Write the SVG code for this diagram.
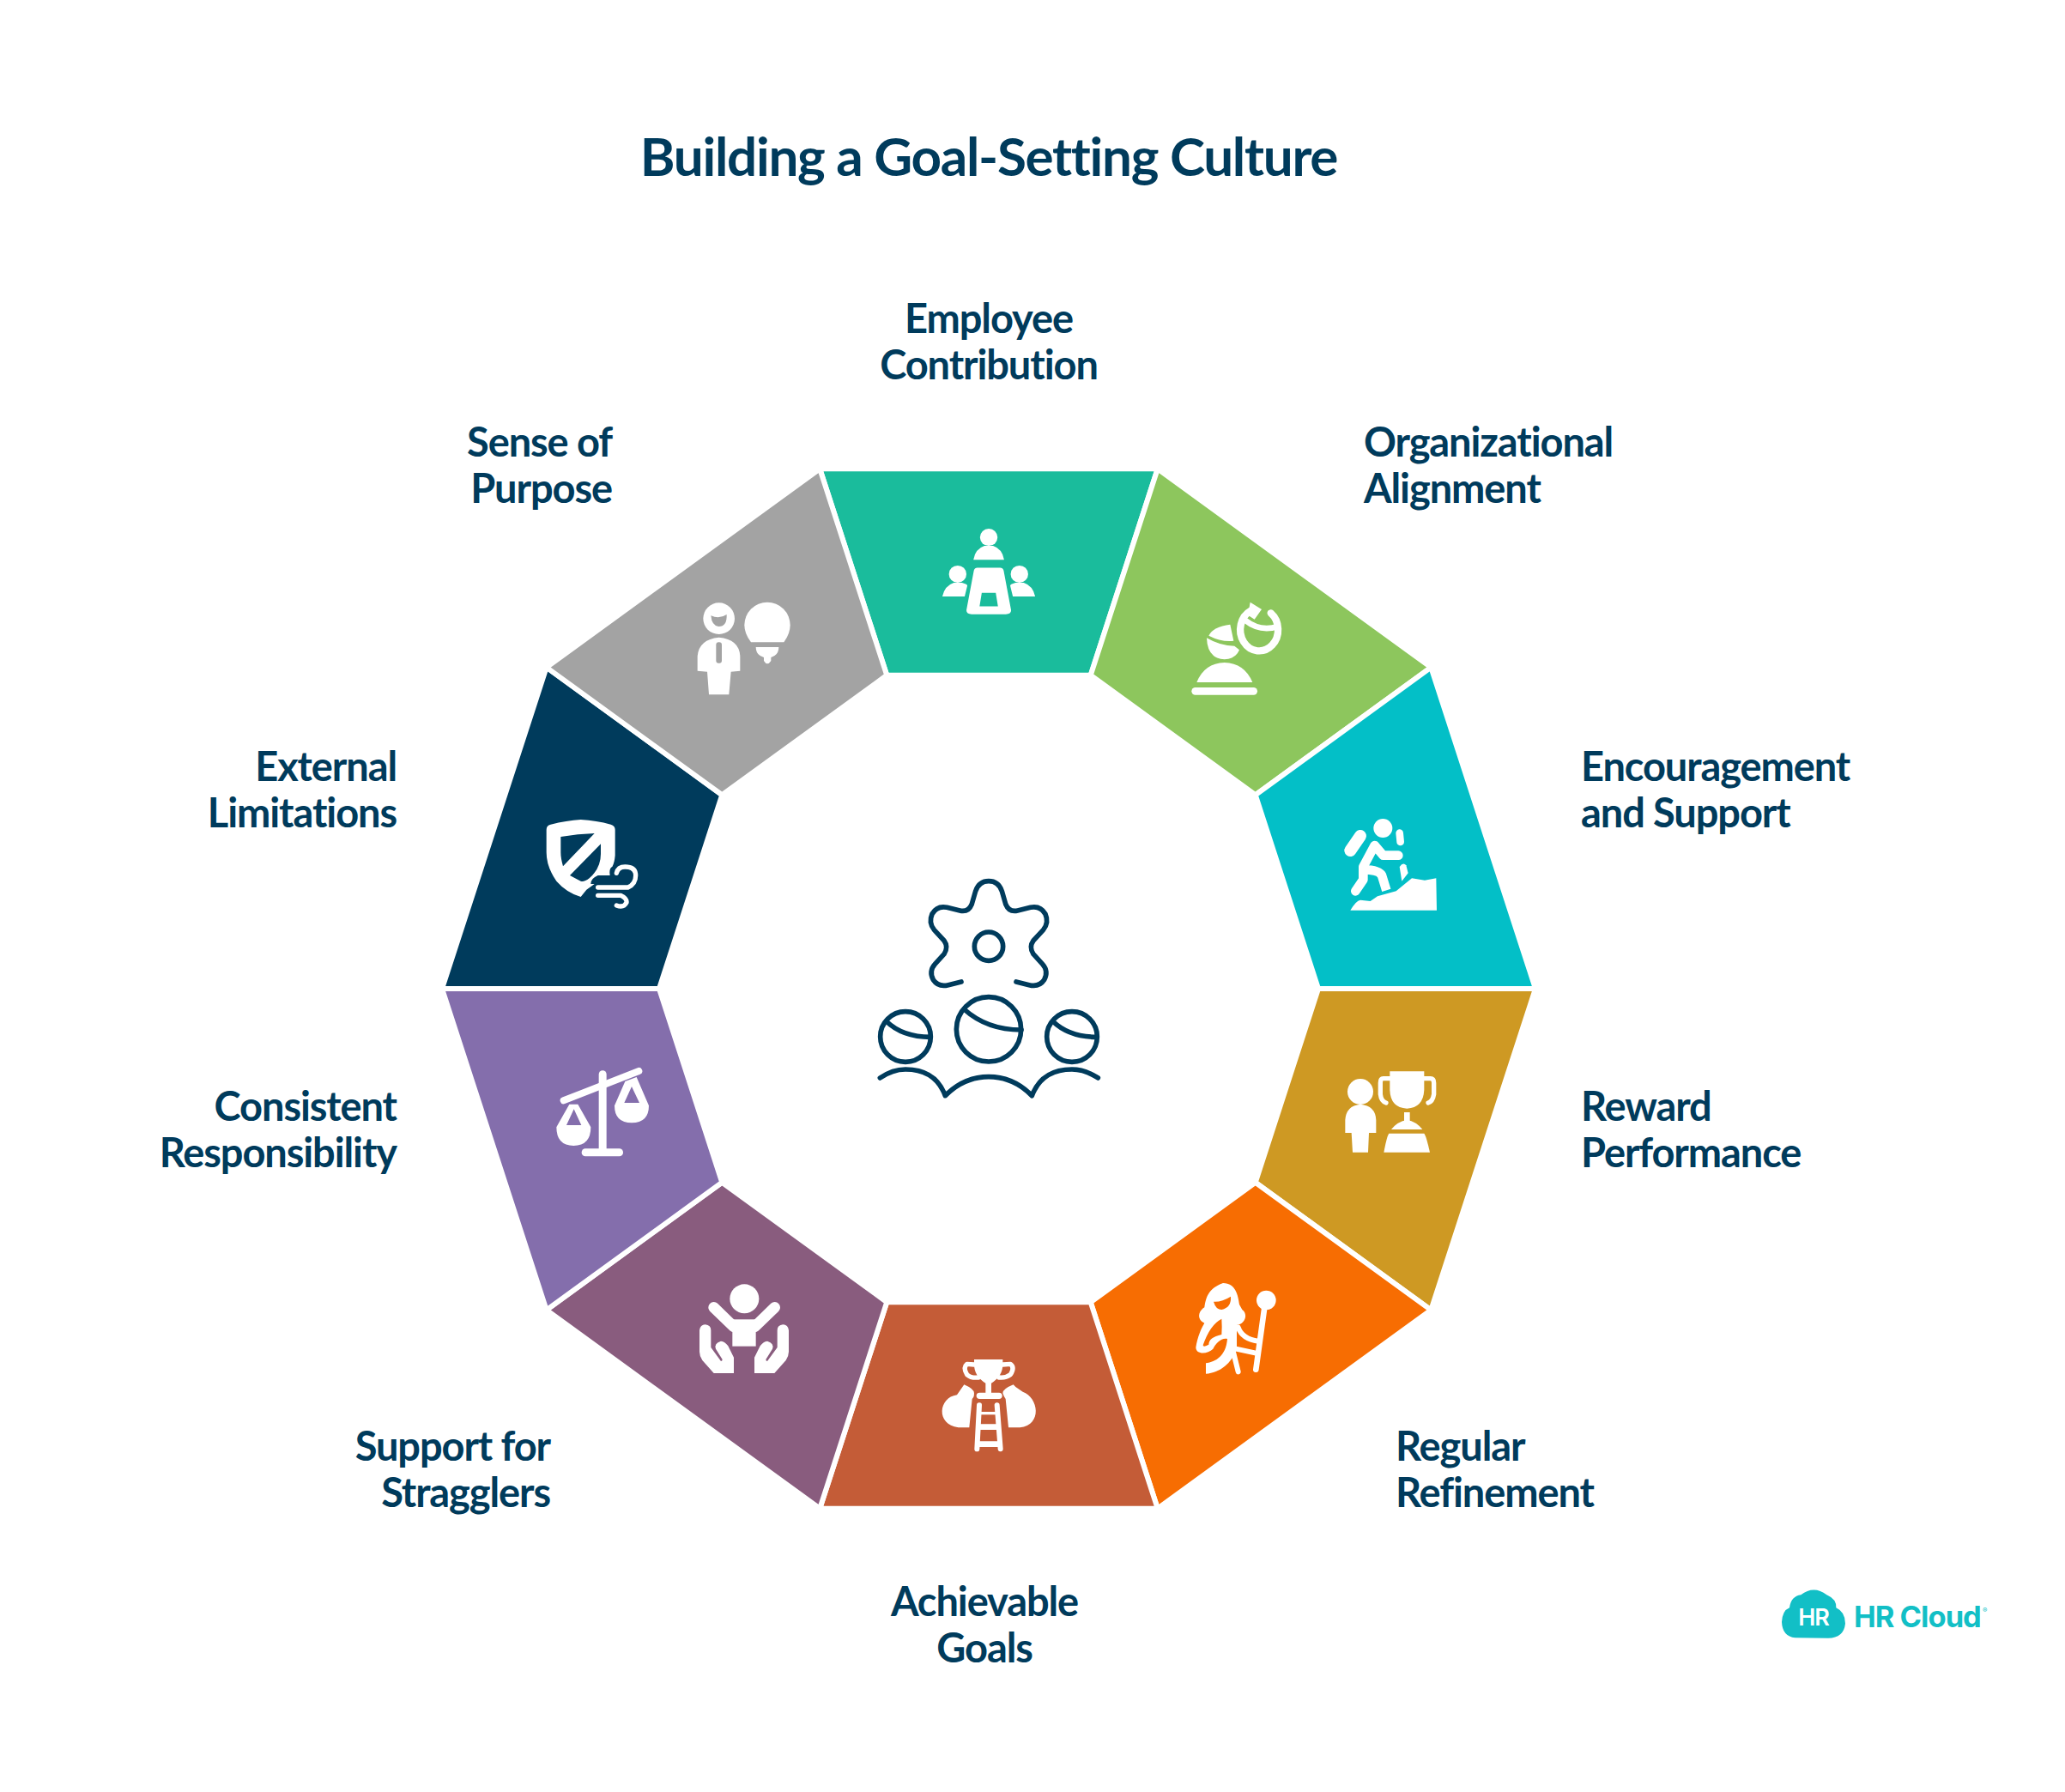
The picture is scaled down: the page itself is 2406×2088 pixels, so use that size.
<svg xmlns="http://www.w3.org/2000/svg" width="2406" height="2088" viewBox="0 0 2406 2088">
<style>
text{font-family:"Lato","Liberation Sans",sans-serif;font-weight:700;fill:#003B5C}
.t{font-size:62px;letter-spacing:-1.3px}
.l{font-size:47px;letter-spacing:-1.1px}
.m{text-anchor:middle}.e{text-anchor:end}
.seg{stroke:#fff;stroke-width:6;stroke-linejoin:miter}
.w{fill:#fff}
.ws{fill:none;stroke:#fff;stroke-linecap:round;stroke-linejoin:round}
.c{fill:none;stroke:#003B5C;stroke-width:17;stroke-linecap:round;stroke-linejoin:round}
</style>
<rect width="2406" height="2088" fill="#fff"/>
<text class="t m" x="1152" y="205">Building a Goal-Setting Culture</text>

<g id="center-icon" transform="translate(960 1000) scale(.33333)">
<path class="c" d="M480 432L435 443Q400 452 382 425Q366 395 388 370L420 335Q436 310 420 288L385 250Q365 225 378 195Q395 165 430 172L475 183Q505 190 517 160L530 115Q542 80 576 80Q610 80 622 115L635 160Q647 190 677 183L722 172Q757 165 774 195Q787 225 767 250L732 288Q716 310 732 335L764 370Q786 395 770 425Q752 452 717 443L672 432"/>
<circle class="c" cx="576" cy="308" r="50"/>
<circle class="c" cx="576" cy="598" r="113"/><path class="c" d="M490 528Q570 600 690 600"/>
<circle class="c" cx="285" cy="624" r="88"/><path class="c" d="M218 570Q275 625 372 625"/>
<circle class="c" cx="867" cy="624" r="88"/><path class="c" d="M800 570Q857 625 954 625"/>
<path class="c" d="M196 768Q240 738 285 738Q390 738 424 830Q490 764 576 764Q662 764 727 830Q762 738 867 738Q912 738 958 768"/>
</g>

<g id="node-employee-contribution">
<polygon class="seg" fill="#1ABC9C" points="955.2,546.2 1348.8,546.2 1270.7,786.8 1033.3,786.8"/>
<g transform="translate(950 520) scale(.5102 .35714)">
<ellipse class="w" cx="396" cy="297" rx="20" ry="28"/>
<path class="w" d="M361 370Q365 335 386 325L406 325Q427 335 431 370Z"/>
<ellipse class="w" cx="325" cy="417" rx="20" ry="28"/>
<path class="w" d="M290 490Q295 455 316 445L335 445Q348 450 347 455L341 490Z"/>
<ellipse class="w" cx="466" cy="417" rx="20" ry="28"/>
<path class="w" d="M502 490Q497 455 476 445L457 445Q444 450 445 455L451 490Z"/>
<path class="w" fill-rule="evenodd" d="M370 396L422 396Q428 396 430 405L447 535Q447 548 435 548L357 548Q345 548 345 535L362 405Q364 396 370 396ZM380 478L375 522L417 522L412 478Z"/>
</g>
<text class="l m" x="1152" y="388">Employee</text>
<text class="l m" x="1152" y="442">Contribution</text>
</g>

<g id="node-organizational-alignment">
<polygon class="seg" fill="#8DC65D" points="1348.8,546.2 1667.3,777.6 1462.7,926.3 1270.7,786.8"/>
<g transform="translate(1380 680) scale(.33333)">
<path class="w" d="M43 345Q70 278 140 276Q210 278 238 345Z"/>
<rect class="w" x="25" y="363" width="230" height="26" rx="13"/>
<path class="w" d="M85 182Q100 150 160 143L172 200Q130 205 85 182Z"/>
<path class="w" d="M78 190Q125 218 175 218L192 232Q180 262 140 265Q80 262 78 190Z"/>
<path class="ws" stroke-width="25" d="M232 95A66 74 0 1 0 302 103"/>
<path class="ws" stroke-width="20" d="M212 128Q265 170 326 150"/>
<path class="w" d="M230 65L270 90L245 125L222 110Z"/>
</g>
<text class="l" x="1589" y="532">Organizational</text>
<text class="l" x="1589" y="586">Alignment</text>
</g>

<g id="node-encouragement-support">
<polygon class="seg" fill="#03BFC7" points="1667.3,777.6 1789,1152 1536,1152 1462.7,926.3"/>
<g transform="translate(1540 930) scale(.33333)">
<circle class="w" cx="214" cy="105" r="33"/>
<path class="ws" stroke-width="42" d="M135 132L100 183"/>
<path class="ws" stroke-width="26" d="M272 122L275 153"/>
<path class="w" d="M272 240Q285 222 295 235L302 262L280 290Z"/>
<path class="ws" stroke-width="32" d="M118 325L145 285L145 240L185 165L215 200L268 200"/>
<path fill="none" stroke="#fff" stroke-width="32" d="M145 250Q200 250 210 270L226 322"/>
<path class="w" d="M100 392Q120 358 135 356L170 360L195 343L260 325L315 280L360 287L400 280L402 392Z"/>
</g>
<text class="l" x="1842" y="910">Encouragement</text>
<text class="l" x="1842" y="964">and Support</text>
</g>

<g id="node-reward-performance">
<polygon class="seg" fill="#CE9923" points="1789,1152 1667.3,1526.4 1462.7,1377.7 1536,1152"/>
<g transform="translate(1540 940) scale(.33333)">
<circle class="w" cx="135" cy="996" r="45"/>
<path class="w" d="M82 1140L82 1095Q85 1045 135 1040Q188 1045 190 1095L190 1140L165 1140L162 1208L108 1208L104 1140Z"/>
<path class="w" d="M238 925L358 925L358 990Q355 1052 298 1055Q240 1052 238 990Z"/>
<path class="ws" stroke-width="16" d="M238 950L215 950Q205 950 205 965L205 1005Q208 1030 225 1035M358 950L380 950Q392 950 392 965L392 1005Q388 1030 372 1035"/>
<rect class="w" x="288" y="1068" width="20" height="32"/>
<path class="w" d="M243 1128Q265 1100 298 1095Q330 1100 352 1128Z"/>
<path class="w" d="M235 1142L358 1142Q365 1150 378 1208L217 1208Q228 1150 235 1142Z"/>
</g>
<text class="l" x="1842" y="1306">Reward</text>
<text class="l" x="1842" y="1360">Performance</text>
</g>

<g id="node-regular-refinement">
<polygon class="seg" fill="#F76D02" points="1667.3,1526.4 1348.8,1757.8 1270.7,1517.2 1462.7,1377.7"/>
<g transform="translate(1360 1480) scale(.33333)">
<circle class="w" cx="346" cy="105" r="34"/>
<path class="ws" stroke-width="20" d="M340 130L310 347"/>
<path class="ws" stroke-width="18" d="M248 200Q262 240 318 248M240 275L310 290M232 290L248 355"/>
<path class="w" d="M195 45C240 45 248 90 252 120L262 138C285 155 270 190 243 192L243 275C225 325 185 358 135 362L135 325C170 320 205 300 210 240C190 235 170 255 160 275C140 295 100 295 100 270C105 235 120 200 130 185C105 175 105 145 130 130C135 100 140 65 195 45Z"/>
<path fill="#F76D02" d="M162 110Q190 112 222 92Q225 130 190 138Q170 138 162 110Z"/>
<path fill="#F76D02" d="M190 170Q150 190 125 262Q125 268 135 265L145 260Q145 235 190 225Q192 200 190 170Z"/>
</g>
<text class="l" x="1626" y="1702">Regular</text>
<text class="l" x="1626" y="1756">Refinement</text>
</g>

<g id="node-achievable-goals">
<polygon class="seg" fill="#C45C37" points="1348.8,1757.8 955.2,1757.8 1033.3,1517.2 1270.7,1517.2"/>
<g transform="translate(1060 1560) scale(.33333)">
<path class="w" d="M225 72L325 72L325 90Q325 130 285 155L285 190L265 190L265 155Q225 130 225 90Z"/>
<path class="ws" stroke-width="16" d="M225 90L200 88Q185 100 200 125Q215 138 240 135M325 90L352 88Q368 100 352 125Q335 138 312 135"/>
<rect class="w" x="233" y="188" width="90" height="22" rx="11"/>
<path class="w" d="M190 160Q225 175 225 190Q225 205 218 210L208 310L170 310C90 300 100 205 165 196Z"/>
<path class="w" d="M362 160Q325 175 325 190Q330 205 335 210L345 310L385 310C465 300 450 205 395 185L370 168Z"/>
<path class="ws" stroke-width="18" d="M243 232L235 385M305 232L317 385"/>
<path fill="none" stroke="#fff" stroke-width="10" d="M240 260L308 260"/>
<path fill="none" stroke="#fff" stroke-width="20" d="M240 308L310 308M238 368L316 368"/>
</g>
<text class="l m" x="1147" y="1883">Achievable</text>
<text class="l m" x="1147" y="1937">Goals</text>
</g>

<g id="node-support-stragglers">
<polygon class="seg" fill="#895C7E" points="955.2,1757.8 636.7,1526.4 841.3,1377.7 1033.3,1517.2"/>
<g transform="translate(790 1480) scale(.33333)">
<circle class="w" cx="232" cy="100" r="51"/>
<path class="ws" stroke-width="38" d="M125 130L195 198M338 130L268 198"/>
<rect class="w" x="190" y="172" width="82" height="94"/>
<path class="w" d="M75 210Q78 190 95 190Q115 192 115 210L115 270L150 318Q155 318 155 312L132 275Q125 255 150 248Q165 250 175 265L195 305L195 360L125 360L85 315Q75 300 75 285Z"/>
<path class="w" d="M387 210Q384 190 367 190Q347 192 347 210L347 270L312 318Q307 318 307 312L330 275Q337 255 312 248Q297 250 287 265L267 305L267 360L337 360L377 315Q387 300 387 285Z"/>
</g>
<text class="l e" x="641" y="1702">Support for</text>
<text class="l e" x="641" y="1756">Stragglers</text>
</g>

<g id="node-consistent-responsibility">
<polygon class="seg" fill="#846EAC" points="636.7,1526.4 515,1152 768,1152 841.3,1377.7"/>
<g transform="translate(630 1220) scale(.33333)">
<path class="w" d="M203 95A13.500 13.500 0 0 1 230 95L230 360L203 360Z"/>
<rect class="w" x="143" y="355" width="145" height="27" rx="13"/>
<path class="ws" stroke-width="24" d="M80 187L343 84"/>
<path class="w" fill-rule="evenodd" d="M100 200L55 280Q55 345 115 345Q175 345 175 280L130 200ZM116 217L90 273L142 273Z"/>
<path class="w" fill-rule="evenodd" d="M295 120L258 205Q258 265 318 265Q378 265 378 205L335 105ZM318 138L292 195L345 195Z"/>
</g>
<text class="l e" x="462" y="1306">Consistent</text>
<text class="l e" x="462" y="1360">Responsibility</text>
</g>

<g id="node-external-limitations">
<polygon class="seg" fill="#003B5C" points="515,1152 636.7,777.6 841.3,926.3 768,1152"/>
<g transform="translate(620 930) scale(.33333)">
<path class="w" fill-rule="evenodd" d="M50 110Q50 95 65 92Q120 78 170 75Q225 78 275 92Q290 97 290 110L290 200Q288 225 280 240Q268 245 272 270L230 270Q205 280 205 300L218 300L190 320L170 345Q120 330 85 290Q50 240 50 190ZM100 135Q100 165 100 190Q100 210 108 238L218 123Q160 125 100 135ZM240 160L132 270Q150 280 170 290Q180 295 200 280Q240 245 240 195Z"/>
<path class="ws" stroke-width="16" d="M230 312L335 312Q362 300 362 270Q362 240 325 240Q300 240 295 262M230 340L310 340Q332 350 330 365Q320 385 295 375"/>
</g>
<text class="l e" x="462" y="910">External</text>
<text class="l e" x="462" y="964">Limitations</text>
</g>

<g id="node-sense-of-purpose">
<polygon class="seg" fill="#A3A3A3" points="636.7,777.6 955.2,546.2 1033.3,786.8 841.3,926.3"/>
<g transform="translate(790 680) scale(.33333)">
<circle class="w" cx="143" cy="122" r="55"/>
<path fill="#A3A3A3" d="M115 112Q145 125 170 108Q172 150 142 150Q118 148 115 112Z"/>
<path class="w" d="M68 305L68 255Q72 195 143 188Q215 195 217 255L217 305L185 308L178 388L108 388L102 308Z"/>
<rect fill="#A3A3A3" x="133" y="205" width="20" height="73" rx="9"/>
<path class="w" d="M255 205Q232 175 232 145A80 80 0 1 1 392 145Q392 175 370 205Z"/>
<path class="w" d="M272 222L352 222Q352 250 325 258L325 270Q312 290 300 270L300 258Q272 250 272 222Z"/>
</g>
<text class="l e" x="713" y="532">Sense of</text>
<text class="l e" x="713" y="586">Purpose</text>
</g>

<g id="logo">
<path fill="#12BFC6" transform="translate(2050 1830) scale(.33333)" d="M125 235Q80 230 78 180Q80 140 105 130Q110 90 145 85Q190 50 235 85Q270 100 268 130Q300 145 300 185Q295 235 240 236Z"/>
<text x="2113" y="1894" text-anchor="middle" style="font-family:'Inter','Liberation Sans',sans-serif;font-size:27px;font-weight:600;fill:#fff;letter-spacing:-1px">HR</text>
<text x="2160" y="1896" style="font-family:'Inter','Liberation Sans',sans-serif;font-size:34.500px;font-weight:700;fill:#12BFC6;letter-spacing:-1px">HR Cloud</text>
<text x="2310" y="1879" style="font-family:'Inter','Liberation Sans',sans-serif;font-size:8px;font-weight:400;fill:#12BFC6">®</text>
</g>
</svg>
